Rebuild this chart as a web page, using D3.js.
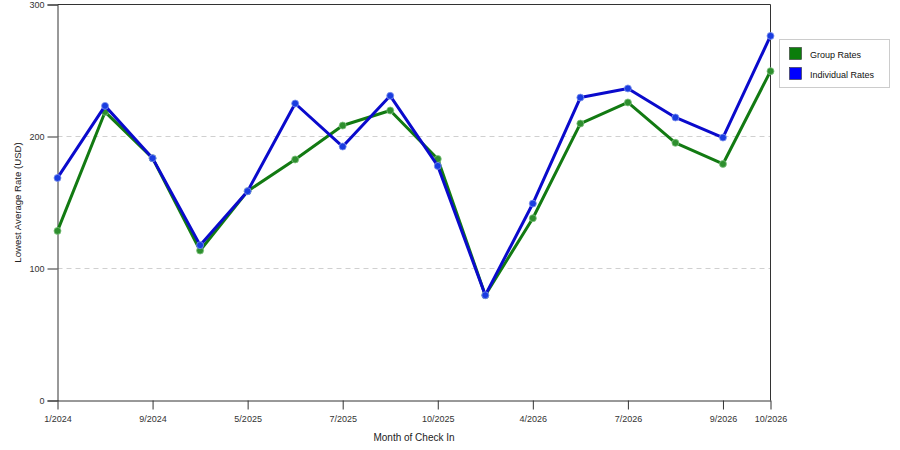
<!DOCTYPE html>
<html>
<head>
<meta charset="utf-8">
<script src="https://cdn.jsdelivr.net/npm/d3@7/dist/d3.min.js"></script>
<style>
  html, body { margin: 0; padding: 0; background: #fff; }
  svg { display: block; font-family: "Liberation Sans", Arial, sans-serif; }
</style>
</head>
<body>
<svg id="chart" width="900" height="450"></svg>
<script>
// ---- data ----
const categories = ["1/2024", "5/2024", "9/2024", "1/2025", "5/2025", "6/2025", "7/2025", "8/2025",
                    "10/2025", "1/2026", "4/2026", "5/2026", "7/2026", "8/2026", "9/2026", "10/2026"];
const shownTicks = ["1/2024", "9/2024", "5/2025", "7/2025", "10/2025", "4/2026", "7/2026", "9/2026", "10/2026"];
const groupRates      = [128.5, 218.6, 183.6, 113.6, 158.6, 182.6, 208.3, 219.7, 183.0, 79.8, 138.1, 209.8, 225.8, 195.2, 179.2, 249.5];
const individualRates = [168.6, 223.2, 183.6, 117.7, 158.6, 225.0, 192.4, 230.8, 177.7, 79.8, 149.2, 229.5, 236.4, 214.4, 199.2, 276.2];
const yTicks = [0, 100, 200, 300];
const seriesNames = ["Group Rates", "Individual Rates"];

// ---- layout ----
const pL = 57.5, pR = 770.5, pT = 4.5, pB = 400.5;
const svg = d3.select("#chart");

const x = d3.scalePoint().domain(categories).range([pL, pR]).padding(0);
const y = d3.scaleLinear().domain([0, 300]).range([pB, pT]);

// gridlines
svg.append("g").selectAll("line")
  .data(yTicks.filter(v => v > 0 && v < 300))
  .join("line")
  .attr("x1", pL).attr("x2", pR)
  .attr("y1", d => y(d)).attr("y2", d => y(d))
  .attr("stroke", "#d0d0d0").attr("stroke-dasharray", "5,4").attr("stroke-width", 1);

// frame (top and right)
svg.append("path")
  .attr("d", `M${pL},${pT}H${pR}V${pB}`)
  .attr("fill", "none").attr("stroke", "#333").attr("stroke-width", 1);

// y axis
const yAxis = svg.append("g")
  .attr("transform", `translate(${pL},0)`)
  .call(d3.axisLeft(y).tickValues(yTicks).tickSize(10).tickPadding(3).tickFormat(d3.format("d")));
yAxis.select(".domain").attr("stroke", "#333");
yAxis.selectAll(".tick line").attr("stroke", "#333");
yAxis.selectAll("text").attr("font-size", "9px").attr("fill", "#333")
  .attr("font-family", "Liberation Sans, Arial, sans-serif");

// x axis
const xAxis = svg.append("g")
  .attr("transform", `translate(0,${pB})`)
  .call(d3.axisBottom(x).tickValues(shownTicks).tickSize(9).tickPadding(6).tickSizeOuter(0));
xAxis.select(".domain").attr("stroke", "#333");
xAxis.selectAll(".tick line").attr("stroke", "#333");
xAxis.selectAll("text").attr("font-size", "9px").attr("fill", "#333")
  .attr("font-family", "Liberation Sans, Arial, sans-serif");

// axis titles
svg.append("text")
  .attr("x", (pL + pR) / 2).attr("y", 441)
  .attr("text-anchor", "middle").attr("font-size", "10px").attr("fill", "#222")
  .text("Month of Check In");
svg.append("text")
  .attr("transform", `translate(21,${(pT + pB) / 2}) rotate(-90)`)
  .attr("text-anchor", "middle").attr("font-size", "9.6px").attr("fill", "#222")
  .text("Lowest Average Rate (USD)");

// series
const series = [
  { name: seriesNames[0], values: groupRates, color: "#127a12", dot: "#2e8f2e", halo: "#7fc27f", swatch: "#0b7d0b" },
  { name: seriesNames[1], values: individualRates, color: "#0a0acc", dot: "#1a3de0", halo: "#7f95ee", swatch: "#0000ff" }
];

const line = d3.line().x((d, i) => x(categories[i])).y(d => y(d));

series.forEach(s => {
  svg.append("path")
    .datum(s.values)
    .attr("d", line)
    .attr("fill", "none").attr("stroke", s.color).attr("stroke-width", 3)
    .attr("stroke-linejoin", "round");
  svg.append("g").selectAll("circle")
    .data(s.values)
    .join("circle")
    .attr("cx", (d, i) => x(categories[i])).attr("cy", d => y(d))
    .attr("r", 3.5)
    .attr("fill", s.dot).attr("stroke", s.halo).attr("stroke-width", 1).attr("stroke-opacity", 0.8);
});

// legend
const lg = svg.append("g");
lg.append("rect")
  .attr("x", 779.5).attr("y", 39.5).attr("width", 110).attr("height", 48)
  .attr("fill", "#fff").attr("stroke", "#ccc").attr("stroke-width", 1);
series.forEach((s, i) => {
  lg.append("rect")
    .attr("x", 789.5).attr("y", 47.5 + i * 20).attr("width", 12).attr("height", 12)
    .attr("fill", s.swatch).attr("stroke", "#333").attr("stroke-width", 0.6);
  lg.append("text")
    .attr("x", 810).attr("y", 57.5 + i * 20)
    .attr("font-size", "9px").attr("fill", "#111")
    .text(s.name);
});
</script>
</body>
</html>
